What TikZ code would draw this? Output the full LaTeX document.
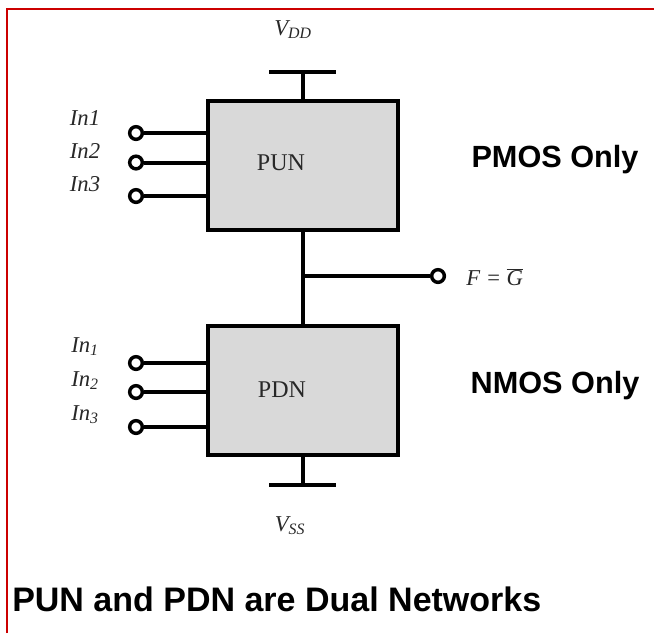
\documentclass[tikz,border=0pt]{standalone}
\usepackage{fontspec}
\setmainfont{Liberation Serif}
\newfontfamily\arialfont{Liberation Sans}
\usepackage{tikz}
\usetikzlibrary{positioning,calc}
\definecolor{netgray}{RGB}{217, 217, 217}
\definecolor{framered}{RGB}{204, 0, 0}
\definecolor{labelgray}{RGB}{40, 40, 40}

\begin{document}
\begin{tikzpicture}[
        x=0.75pt, y=-0.75pt,
        wire/.style={line width=3pt, draw=black},
        network/.style={draw=black, fill=netgray, line width=3pt, minimum width=142.5pt, minimum height=96.75pt, inner sep=0pt},
        pin/.style={draw=black, fill=white, circle, line width=2.6pt, minimum size=9.5pt, inner sep=0pt},
        sig/.style={font=\fontsize{17}{20}\selectfont\itshape, text=labelgray, inner sep=0pt},
        netname/.style={font=\fontsize{18}{20}\selectfont, text=labelgray, inner sep=0pt},
        note/.style={font=\arialfont\bfseries\fontsize{23}{26}\selectfont, inner sep=0pt}
    ]
        \useasboundingbox (0,0) rectangle (654,633);

        % Frame
        \draw[draw=framered, line width=1.5pt] (6.5,633) -- (6.5,9) -- (654,9);

        % Networks
        \node[network] (pun) at (302.5,165.5) {};
        \node[network] (pdn) at (302.5,390.5) {};
        \node[netname, anchor=base] (punlbl) at (281,170) {PUN};
        \node[netname, anchor=base] (pdnlbl) at (282,397) {PDN};

        % Supply rails
        \coordinate (vdd) at (302.5,72);
        \coordinate (vss) at (302.5,485);
        \draw[wire] (pun.north) -- (vdd);
        \draw[wire] ([xshift=-25pt]vdd) -- ([xshift=25pt]vdd);
        \draw[wire] (pdn.south) -- (vss);
        \draw[wire] ([xshift=-25pt]vss) -- ([xshift=25pt]vss);
        \node[sig, anchor=base] (vddlbl) at (293,35) {V\textsubscript{DD}};
        \node[sig, anchor=base] (vsslbl) at (290,531) {V\textsubscript{SS}};

        % Output
        \coordinate (fjoin) at (302.5,276);
        \node[pin] (fout) at (438,276) {};
        \draw[wire] (pun.south) -- (pdn.north);
        \draw[wire] (fjoin) -- (fout);
        \node[sig, anchor=west] (flbl) at (466,277) {F = $\overline{\hbox{\textit{G}}}$};

        % PUN inputs
        \node[pin] (pin1) at (136,133) {};
        \node[pin] (pin2) at (136,162.5) {};
        \node[pin] (pin3) at (136,196) {};
        \draw[wire] (pin1) -- (pun.west |- pin1);
        \draw[wire] (pin2) -- (pun.west |- pin2);
        \draw[wire] (pin3) -- (pun.west |- pin3);
        \node[sig, anchor=base] (pin1lbl) at (85,125) {In1};
        \node[sig, anchor=base] (pin2lbl) at (85,158) {In2};
        \node[sig, anchor=base] (pin3lbl) at (85,191) {In3};

        % PDN inputs
        \node[pin] (nin1) at (136,363) {};
        \node[pin] (nin2) at (136,392) {};
        \node[pin] (nin3) at (136,427) {};
        \draw[wire] (nin1) -- (pdn.west |- nin1);
        \draw[wire] (nin2) -- (pdn.west |- nin2);
        \draw[wire] (nin3) -- (pdn.west |- nin3);
        \node[sig, anchor=base] (nin1lbl) at (85,352) {In\textsubscript{1}};
        \node[sig, anchor=base] (nin2lbl) at (85,386) {In\textsubscript{2}};
        \node[sig, anchor=base] (nin3lbl) at (85,420) {In\textsubscript{3}};

        % Notes
        \node[note, anchor=base] (pmos) at (555,167) {PMOS Only};
        \node[note, anchor=base] (nmos) at (555,393) {NMOS Only};
        \node[note, font=\arialfont\bfseries\fontsize{25.5}{30}\selectfont, anchor=base west] (dual) at (12,611) {PUN and PDN are Dual Networks};
    \end{tikzpicture}
\end{document}
